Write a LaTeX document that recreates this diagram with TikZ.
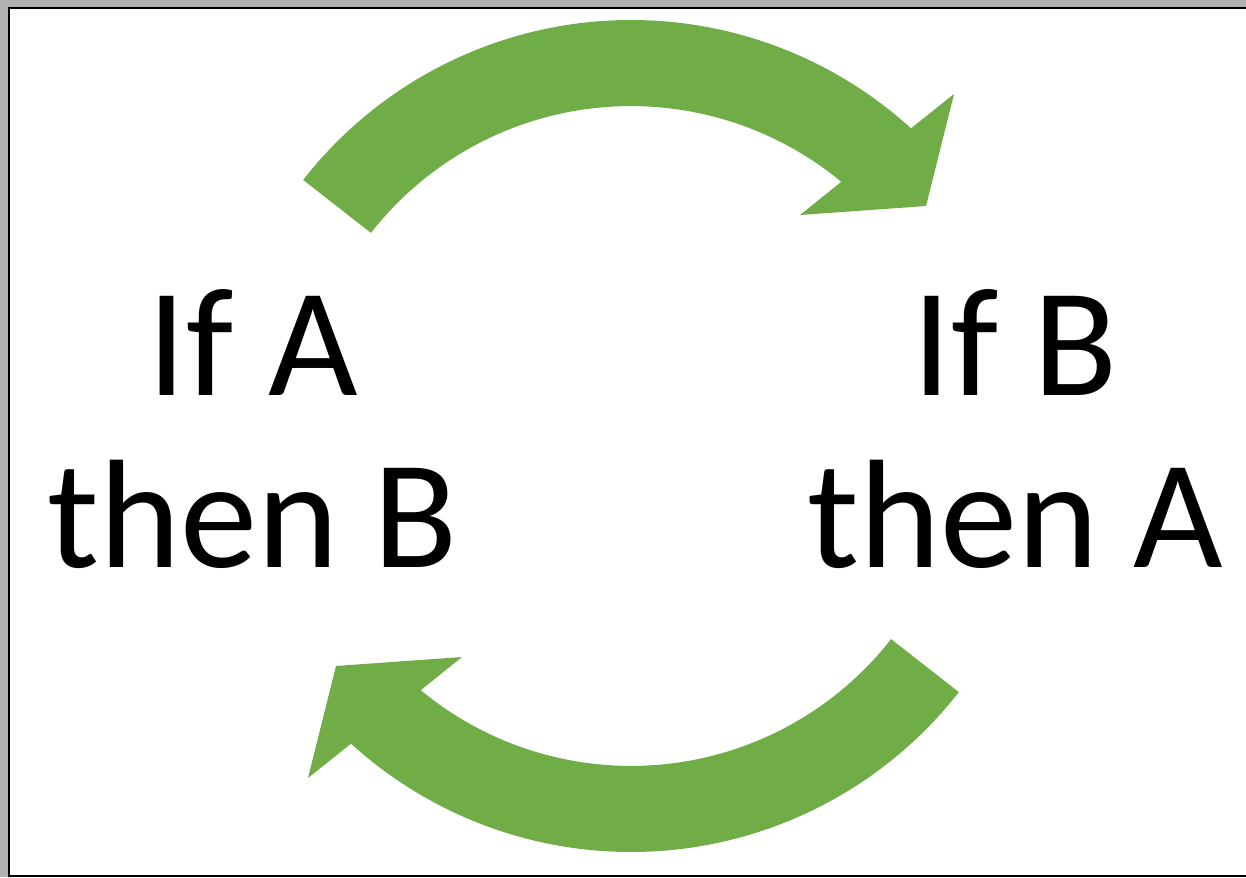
\documentclass[tikz,border=0pt]{standalone}
\usepackage{fontspec}
\setmainfont{Carlito}
\usepackage{tikz}
\usetikzlibrary{positioning}
\definecolor{loopgreen}{RGB}{112,173,71}

\begin{document}
\begin{tikzpicture}[x=0.02cm, y=0.02cm]
        % Define styles
        \tikzstyle{claim} = [align=center, inner sep=0pt, font=\fontsize{88}{98}\selectfont]
        \tikzstyle{loop} = [fill=loopgreen]

        % Frame
        \useasboundingbox (0,0) rectangle (1246,877);
        \fill[black!30] (0,0) rectangle (1246,877);
        \fill[white] (9,1) rectangle (1246,869);
        \draw[black, line width=1.4pt] (1246,869) -- (9,869) -- (9,1) -- (1246,1);

        % Statements
        \node [claim] (ifa) at (253,448) {If A\\then B};
        \node [claim] (ifb) at (1015,448) {If B\\then A};

        % Arrows
        \fill[loop] (303.2,697.1) arc[start angle=142, end angle=47.7, radius=416]
            -- (954,783) -- (926,671) -- (800,662) -- (841.3,695.2)
            arc[start angle=50.4, end angle=142, radius=330] -- cycle;
        \fill[loop] (958.8,184.9) arc[start angle=322, end angle=227.7, radius=416]
            -- (308,99) -- (336,211) -- (462,220) -- (420.7,186.8)
            arc[start angle=230.4, end angle=322, radius=330] -- cycle;
\end{tikzpicture}
\end{document}
